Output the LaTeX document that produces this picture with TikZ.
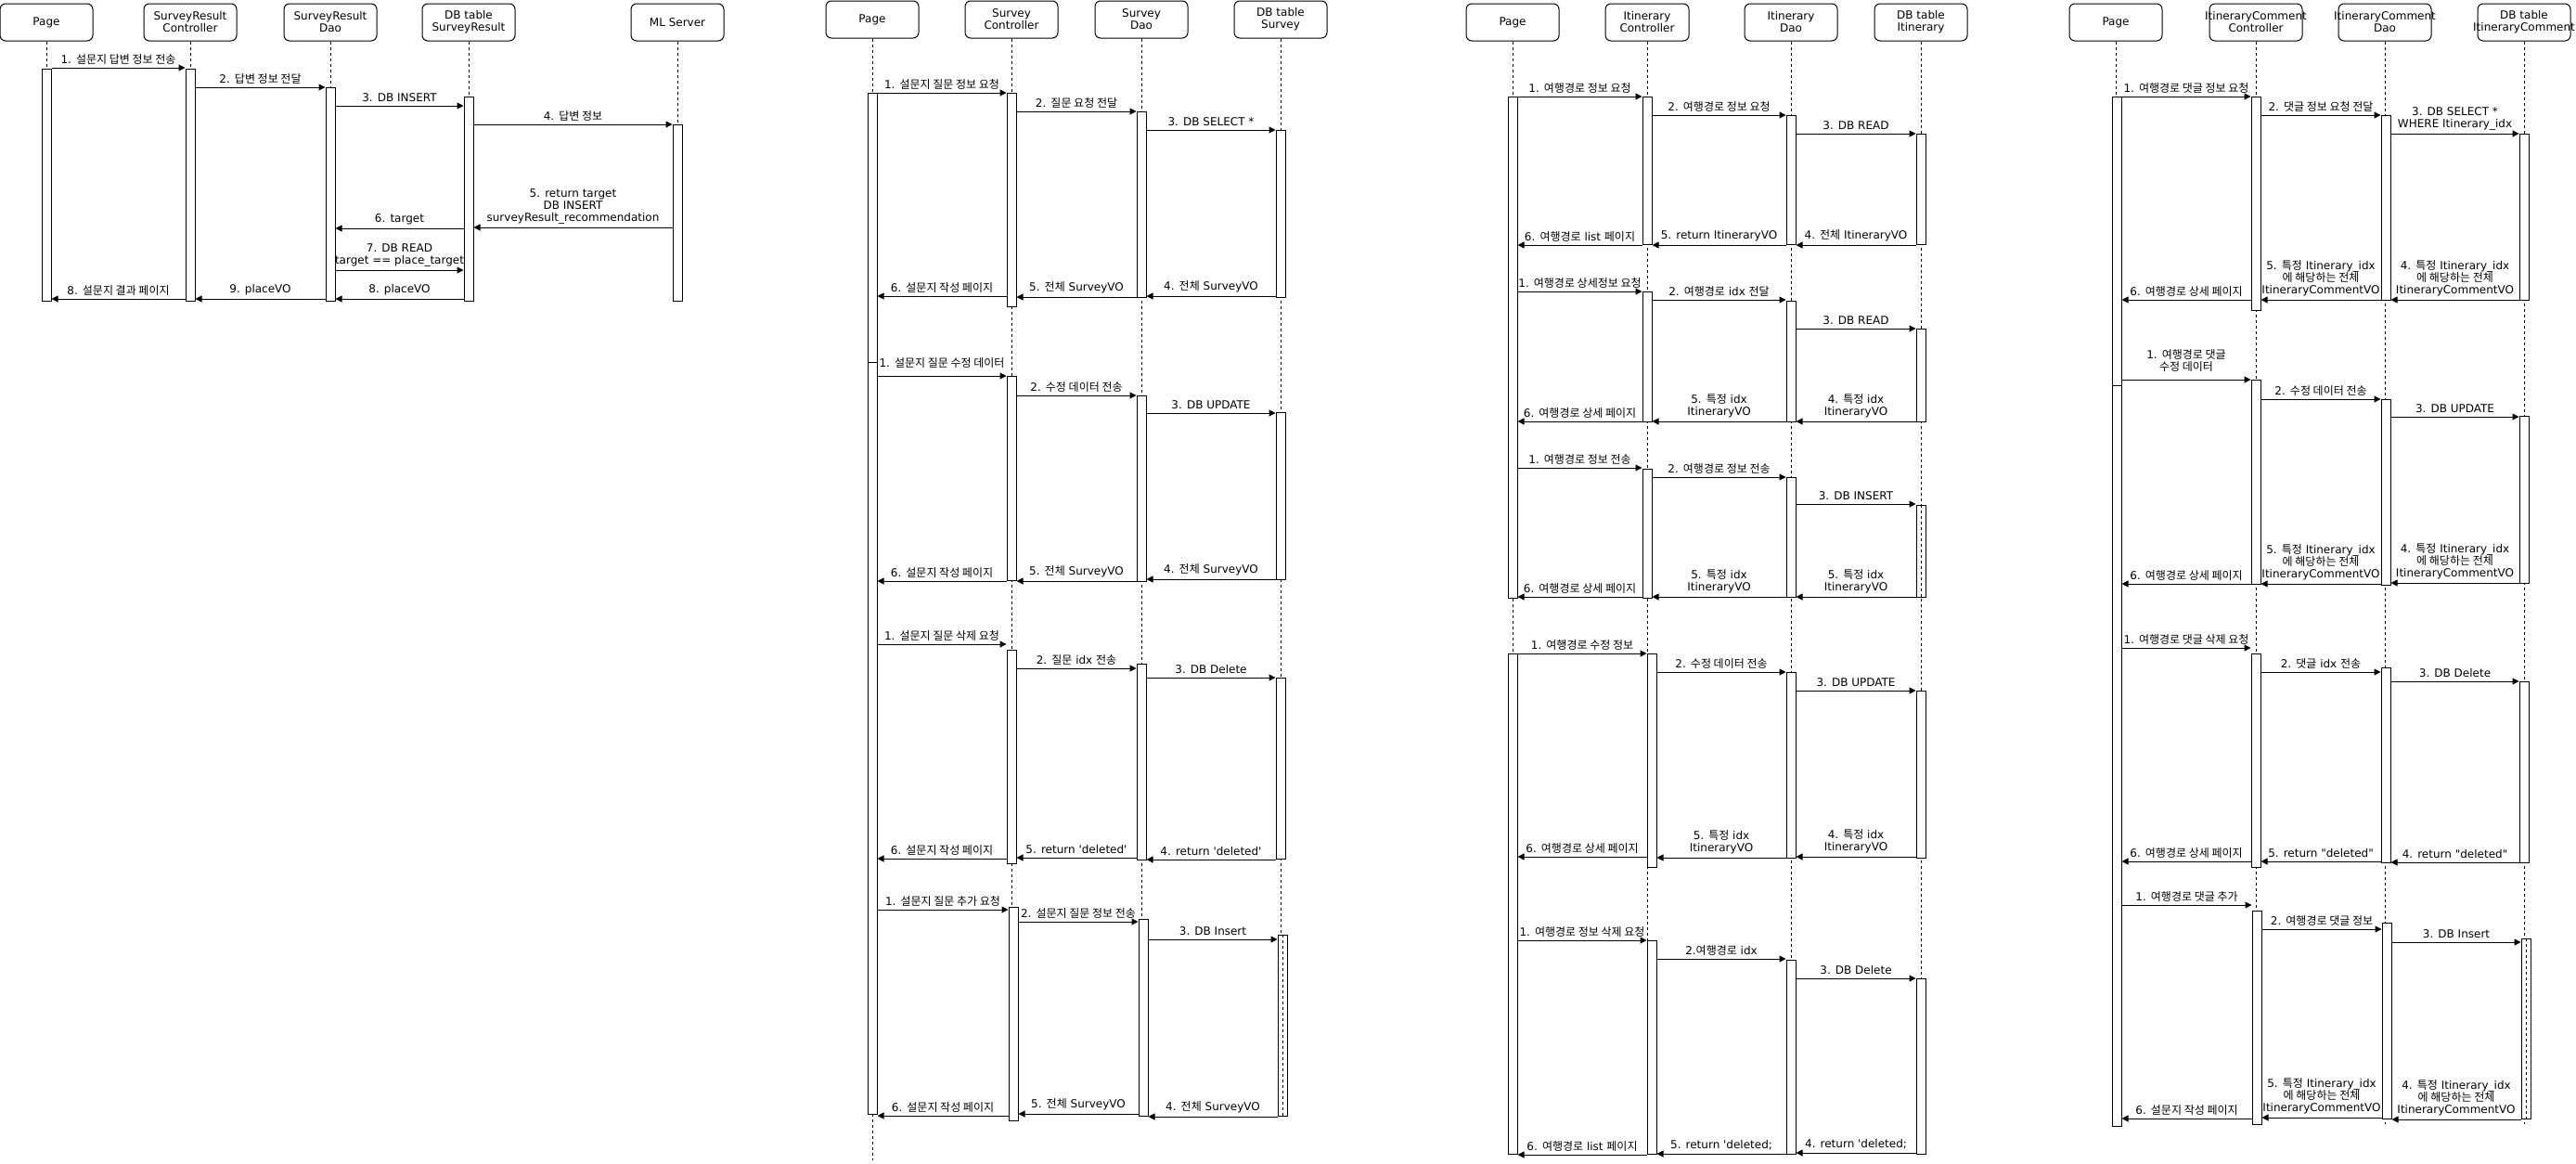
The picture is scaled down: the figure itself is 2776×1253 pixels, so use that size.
\documentclass[tikz,border=0pt]{standalone}
\usepackage{fontspec}
\newfontfamily\dv{DejaVu Sans}
\newfontfamily\krf{Noto Sans CJK KR}[Scale=1.0]
\usetikzlibrary{arrows.meta}
\newcommand\kr[1]{{\krf #1}}
\newcommand\lblfont{\dv\fontsize{6pt}{6.5pt}\selectfont}
\tikzset{
  hdr/.style={draw, rounded corners=3pt, minimum width=50pt, minimum height=20pt, align=center, inner sep=0pt, line width=0.5pt, font=\lblfont},
  actb/.style={draw, fill=white, minimum width=5pt, inner sep=0pt, line width=0.5pt, anchor=north},
  life/.style={dash pattern=on 1.5pt off 1.5pt, line width=0.5pt},
  msg/.style={-{Triangle[length=3.5pt,width=3.5pt]}, line width=0.5pt},
  lbl/.style={midway, above, align=center, inner sep=0pt, outer sep=0pt, yshift=2pt, font=\lblfont}
}
\newcommand\actbar[4]{\node[actb, minimum height={(#4-#3)*0.5pt}] (#1) at (#2,#3) {};}
\newcommand\msgR[5][]{\draw[msg] (#2.east |- 0,#4) -- node[lbl,#1]{#5} (#3.west |- 0,#4);}
\newcommand\msgL[5][]{\draw[msg] (#2.west |- 0,#4) -- node[lbl,#1]{#5} (#3.east |- 0,#4);}
\begin{document}
\begin{tikzpicture}[x=0.5pt,y=-0.5pt]
\fill[white] (0,0) rectangle (2776,1253);
\useasboundingbox (0,0) rectangle (2776,1253);

% ================= Diagram 1 =================
\node[hdr] (A0) at (50,24) {Page};
\node[hdr] (A1) at (205,24) {SurveyResult\\Controller};
\node[hdr] (A2) at (356,24) {SurveyResult\\Dao};
\node[hdr] (A3) at (505,24) {DB table\\SurveyResult};
\node[hdr] (A4) at (730,24) {ML Server};
\foreach \n in {A0,A1,A2,A3,A4} \draw[life] (\n.south) -- (\n.south |- 0,324);
\actbar{a0}{50}{74}{324}
\actbar{a1}{205}{74}{324}
\actbar{a2}{356}{94}{324}
\actbar{a3}{505}{104}{324}
\actbar{a4}{730}{134}{324}
\msgR{a0}{a1}{73}{1. \kr{설문지 답변 정보 전송}}
\msgR{a1}{a2}{94}{2. \kr{답변 정보 전달}}
\msgR{a2}{a3}{114}{3. DB INSERT}
\msgR{a3}{a4}{134}{4. \kr{답변 정보}}
\msgL{a4}{a3}{245}{5. return target\\DB INSERT\\surveyResult\_recommendation}
\msgL{a3}{a2}{246}{6. target}
\msgR{a2}{a3}{291}{7. DB READ\\target == place\_target}
\msgL{a3}{a2}{322}{8. placeVO}
\msgL{a2}{a1}{322}{9. placeVO}
\msgL{a1}{a0}{322}{8. \kr{설문지 결과 페이지}}

% ================= Diagram 2 =================
\node[hdr] (B0) at (940,21) {Page};
\node[hdr] (B1) at (1090,21) {Survey\\Controller};
\node[hdr] (B2) at (1230,21) {Survey\\Dao};
\node[hdr] (B3) at (1380,21) {DB table\\Survey};
\draw[life] (B0.south) -- (B0.south |- 0,1250);
\draw[life] (B1.south) -- (B1.south |- 0,1207);
\draw[life] (B2.south) -- (B2.south |- 0,1202);
\draw[life] (B3.south) -- (B3.south |- 0,1202);
\actbar{b0a}{940}{100}{1200}
\actbar{b0b}{940}{390}{1200}
\actbar{b1a}{1090}{100}{330}
\actbar{b2a}{1230}{120}{320}
\actbar{b3a}{1380}{140}{320}
\actbar{b1b}{1090}{405}{625}
\actbar{b2b}{1230}{426}{626}
\actbar{b3b}{1380}{444}{624}
\actbar{b1c}{1090}{700}{930}
\actbar{b2c}{1230}{715}{926}
\actbar{b3c}{1380}{730}{925}
\actbar{b1d}{1092}{977}{1207}
\actbar{b2d}{1232}{990}{1202}
\actbar{b3d}{1382}{1007}{1202}
\draw[life] (b3d.north) -- (b3d.south);
\msgR{b0a}{b1a}{100}{1. \kr{설문지 질문 정보 요청}}
\msgR{b1a}{b2a}{120}{2. \kr{질문 요청 전달}}
\msgR{b2a}{b3a}{140}{3. DB SELECT *}
\msgL{b3a}{b2a}{319}{4. \kr{전체} SurveyVO}
\msgL{b2a}{b1a}{320}{5. \kr{전체} SurveyVO}
\msgL{b1a}{b0a}{319}{6. \kr{설문지 작성 페이지}}
\msgR[yshift=2.5pt]{b0a}{b1b}{405}{1. \kr{설문지 질문 수정 데이터}}
\msgR{b1b}{b2b}{426}{2. \kr{수정 데이터 전송}}
\msgR{b2b}{b3b}{445}{3. DB UPDATE}
\msgL{b3b}{b2b}{624}{4. \kr{전체} SurveyVO}
\msgL{b2b}{b1b}{626}{5. \kr{전체} SurveyVO}
\msgL{b1b}{b0a}{626}{6. \kr{설문지 작성 페이지}}
\msgR{b0a}{b1c}{694}{1. \kr{설문지 질문 삭제 요청}}
\msgR{b1c}{b2c}{720}{2. \kr{질문} idx \kr{전송}}
\msgR{b2c}{b3c}{730}{3. DB Delete}
\msgL{b3c}{b2c}{926}{4. return 'deleted'}
\msgL{b2c}{b1c}{924}{5. return 'deleted'}
\msgL{b1c}{b0a}{925}{6. \kr{설문지 작성 페이지}}
\msgR{b0a}{b1d}{980}{1. \kr{설문지 질문 추가 요청}}
\msgR{b1d}{b2d}{993}{2. \kr{설문지 질문 정보 전송}}
\msgR{b2d}{b3d}{1012}{3. DB Insert}
\msgL{b3d}{b2d}{1203}{4. \kr{전체} SurveyVO}
\msgL{b2d}{b1d}{1200}{5. \kr{전체} SurveyVO}
\msgL{b1d}{b0a}{1202}{6. \kr{설문지 작성 페이지}}

% ================= Diagram 3 =================
\node[hdr] (C0) at (1630,24) {Page};
\node[hdr, minimum width=45pt] (C1) at (1775,24) {Itinerary\\Controller};
\node[hdr] (C2) at (1930,24) {Itinerary\\Dao};
\node[hdr] (C3) at (2070,24) {DB table\\Itinerary};
\foreach \n in {C0,C1,C2,C3} \draw[life] (\n.south) -- (\n.south |- 0,1243);
\actbar{c0a}{1630}{104}{644}
\actbar{c0b}{1630}{704}{1243}
\actbar{c1a}{1775}{104}{263}
\actbar{c2a}{1930}{124}{263}
\actbar{c3a}{2070}{144}{263}
\actbar{c1b}{1775}{314}{454}
\actbar{c2b}{1930}{324}{454}
\actbar{c3b}{2070}{354}{454}
\actbar{c1c}{1775}{505}{644}
\actbar{c2c}{1930}{514}{643}
\actbar{c3c}{2070}{544}{643}
\draw[life] (c3c.north) -- (c3c.south);
\actbar{c1d}{1780}{704}{934}
\actbar{c2d}{1930}{724}{924}
\actbar{c3d}{2070}{744}{924}
\actbar{c1e}{1780}{1013}{1243}
\actbar{c2e}{1930}{1034}{1243}
\actbar{c3e}{2070}{1054}{1243}
\msgR{c0a}{c1a}{104}{1. \kr{여행경로 정보 요청}}
\msgR{c1a}{c2a}{124}{2. \kr{여행경로 정보 요청}}
\msgR{c2a}{c3a}{144}{3. DB READ}
\msgL{c3a}{c2a}{264}{4. \kr{전체} ItineraryVO}
\msgL{c2a}{c1a}{264}{5. return ItineraryVO}
\msgL{c1a}{c0a}{264}{6. \kr{여행경로} list \kr{페이지}}
\msgR{c0a}{c1b}{314}{1. \kr{여행경로 상세정보 요청}}
\msgR{c1b}{c2b}{323}{2. \kr{여행경로} idx \kr{전달}}
\msgR{c2b}{c3b}{354}{3. DB READ}
\msgL{c3b}{c2b}{454}{4. \kr{특정} idx\\ItineraryVO}
\msgL{c2b}{c1b}{454}{5. \kr{특정} idx\\ItineraryVO}
\msgL{c1b}{c0a}{454}{6. \kr{여행경로 상세 페이지}}
\msgR{c0a}{c1c}{504}{1. \kr{여행경로 정보 전송}}
\msgR{c1c}{c2c}{514}{2. \kr{여행경로 정보 전송}}
\msgR{c2c}{c3c}{543}{3. DB INSERT}
\msgL{c3c}{c2c}{643}{5. \kr{특정} idx\\ItineraryVO}
\msgL{c2c}{c1c}{643}{5. \kr{특정} idx\\ItineraryVO}
\msgL{c1c}{c0a}{643}{6. \kr{여행경로 상세 페이지}}
\msgR{c0b}{c1d}{704}{1. \kr{여행경로 수정 정보}}
\msgR{c1d}{c2d}{724}{2. \kr{수정 데이터 전송}}
\msgR{c2d}{c3d}{744}{3. DB UPDATE}
\msgL{c3d}{c2d}{923}{4. \kr{특정} idx\\ItineraryVO}
\msgL{c2d}{c1d}{924}{5. \kr{특정} idx\\ItineraryVO}
\msgL{c1d}{c0b}{923}{6. \kr{여행경로 상세 페이지}}
\msgR{c0b}{c1e}{1013}{1. \kr{여행경로 정보 삭제 요청}}
\msgR{c1e}{c2e}{1033}{2.\kr{여행경로} idx}
\msgR{c2e}{c3e}{1054}{3. DB Delete}
\msgL{c3e}{c2e}{1242}{4. return 'deleted;}
\msgL{c2e}{c1e}{1243}{5. return 'deleted;}
\msgL{c1e}{c0b}{1244}{6. \kr{여행경로} list \kr{페이지}}

% ================= Diagram 4 =================
\node[hdr] (D0) at (2280,24) {Page};
\node[hdr] (D1) at (2431,24) {\makebox[0pt]{ItineraryComment}\\Controller};
\node[hdr] (D2) at (2570,24) {\makebox[0pt]{ItineraryComment}\\Dao};
\node[hdr] (D3) at (2720,24) {DB table\\\makebox[0pt]{ItineraryComment}};
\foreach \n in {D0,D1,D2,D3} \draw[life] (\n.south) -- (\n.south |- 0,1211);
\actbar{d0a}{2281}{104}{1213}
\actbar{d0b}{2281}{415}{1213}
\actbar{d1a}{2431}{104}{334}
\actbar{d2a}{2571}{124}{323}
\actbar{d3a}{2720}{144}{323}
\actbar{d1b}{2431}{409}{629}
\actbar{d2b}{2571}{430}{630}
\actbar{d3b}{2720}{448}{628}
\actbar{d1c}{2431}{704}{934}
\actbar{d2c}{2571}{719}{929}
\actbar{d3c}{2720}{734}{929}
\actbar{d1d}{2432}{981}{1211}
\actbar{d2d}{2572}{994}{1205}
\actbar{d3d}{2722}{1011}{1205}
\draw[life] (d3d.north) -- (d3d.south);
\msgR{d0a}{d1a}{104}{1. \kr{여행경로 댓글 정보 요청}}
\msgR{d1a}{d2a}{124}{2. \kr{댓글 정보 요청 전달}}
\msgR{d2a}{d3a}{144}{3. DB SELECT *\\WHERE Itinerary\_idx}
\msgL{d3a}{d2a}{323}{4. \kr{특정} Itinerary\_idx\\\kr{에 해당하는 전체}\\ItineraryCommentVO}
\msgL{d2a}{d1a}{323}{5. \kr{특정} Itinerary\_idx\\\kr{에 해당하는 전체}\\ItineraryCommentVO}
\msgL{d1a}{d0a}{323}{6. \kr{여행경로 상세 페이지}}
\msgR[yshift=2.5pt]{d0a}{d1b}{409}{1. \kr{여행경로 댓글}\\\kr{수정 데이터}}
\msgR{d1b}{d2b}{430}{2. \kr{수정 데이터 전송}}
\msgR{d2b}{d3b}{449}{3. DB UPDATE}
\msgL{d3b}{d2b}{628}{4. \kr{특정} Itinerary\_idx\\\kr{에 해당하는 전체}\\ItineraryCommentVO}
\msgL{d2b}{d1b}{629}{5. \kr{특정} Itinerary\_idx\\\kr{에 해당하는 전체}\\ItineraryCommentVO}
\msgL{d1b}{d0b}{629}{6. \kr{여행경로 상세 페이지}}
\msgR{d0b}{d1c}{698}{1. \kr{여행경로 댓글 삭제 요청}}
\msgR{d1c}{d2c}{724}{2. \kr{댓글} idx \kr{전송}}
\msgR{d2c}{d3c}{734}{3. DB Delete}
\msgL{d3c}{d2c}{929}{4. return "deleted"}
\msgL{d2c}{d1c}{928}{5. return "deleted"}
\msgL{d1c}{d0b}{928}{6. \kr{여행경로 상세 페이지}}
\msgR{d0b}{d1d}{975}{1. \kr{여행경로 댓글 추가}}
\msgR{d1d}{d2d}{1001}{2. \kr{여행경로 댓글 정보}}
\msgR{d2d}{d3d}{1015}{3. DB Insert}
\msgL{d3d}{d2d}{1206}{4. \kr{특정} Itinerary\_idx\\\kr{에 해당하는 전체}\\ItineraryCommentVO}
\msgL{d2d}{d1d}{1204}{5. \kr{특정} Itinerary\_idx\\\kr{에 해당하는 전체}\\ItineraryCommentVO}
\msgL{d1d}{d0b}{1205}{6. \kr{설문지 작성 페이지}}
\end{tikzpicture}
\end{document}
